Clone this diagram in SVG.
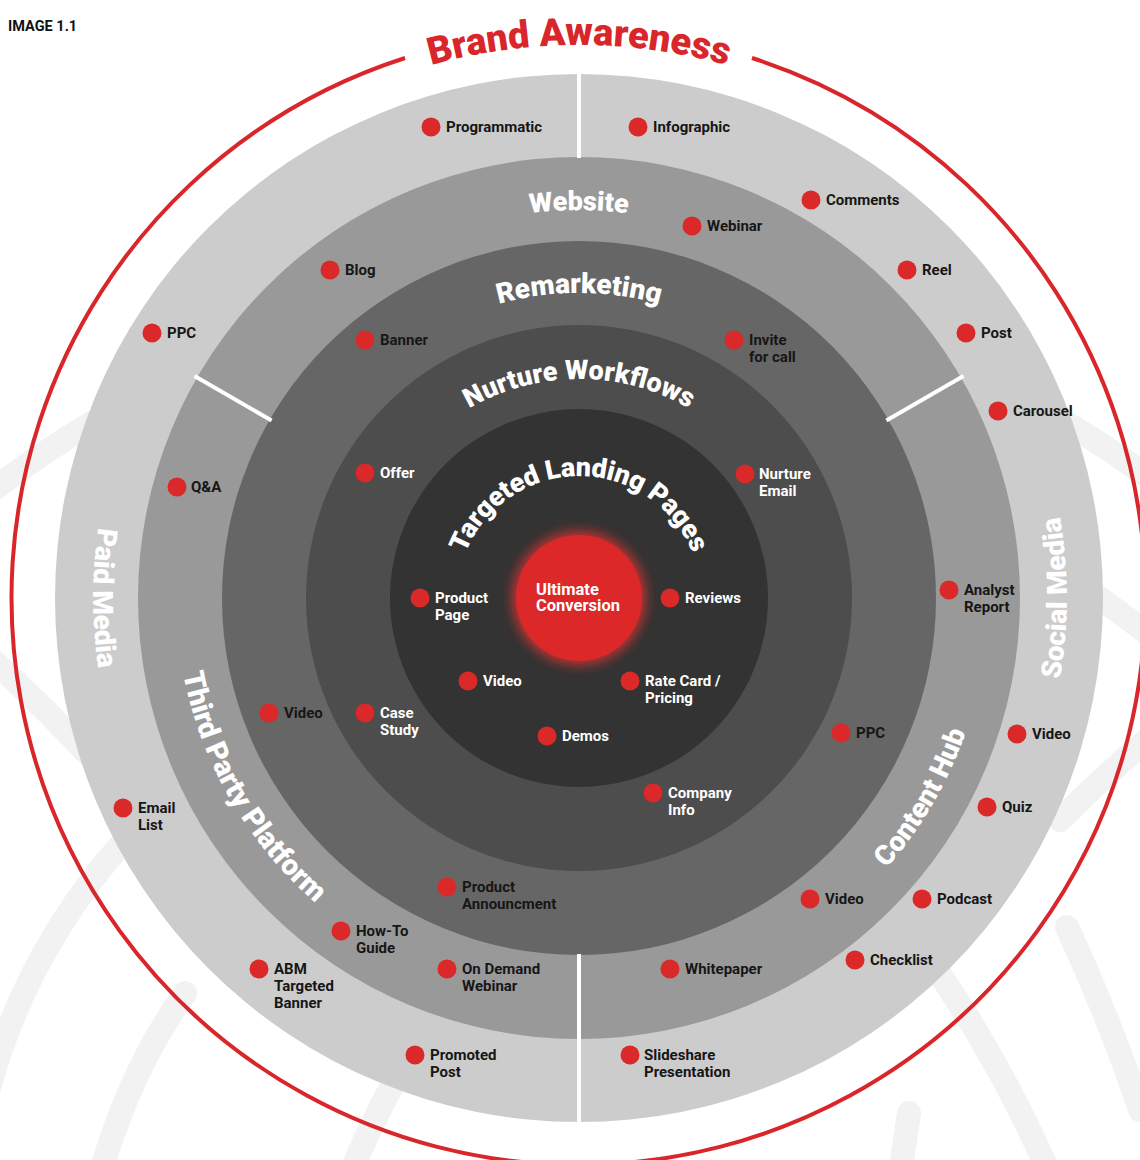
<svg xmlns="http://www.w3.org/2000/svg" width="1140" height="1160" viewBox="0 0 1140 1160">
<style>
.lbl{font-family:Roboto,"Liberation Sans",sans-serif;font-size:15px;font-weight:700;fill:#161616}
.dot{fill:#db2828}
.ttl{font-family:Roboto,"Liberation Sans",sans-serif;font-weight:900;fill:#ffffff}
.deco{fill:none;stroke:#f2f2f2;stroke-width:24;stroke-linecap:round}
.div{stroke:#ffffff;stroke-width:4}
</style>
<defs>
<path id="pBrand" d="M 26,598 A 553 553 0 0 1 1132,598"/>
<path id="pWeb" d="M 191,598 A 388 388 0 0 1 967,598"/>
<path id="pRem" d="M 274,598 A 305 305 0 0 1 884,598"/>
<path id="pNur" d="M 360,598 A 219 219 0 0 1 798,598"/>
<path id="pLand" d="M 457,598 A 122 122 0 0 1 701,598"/>
<path id="pPaid" d="M 579,112 A 486 486 0 0 0 579,1084"/>
<path id="pSoc" d="M 579,1086 A 488 488 0 0 0 579,110"/>
<path id="pTpp" d="M 375,244.7 A 408 408 0 0 0 783,951.3"/>
<path id="pCh" d="M 372.9,951.9 A 409 409 0 0 0 785.1,244.1"/>
<filter id="glow" x="-50%" y="-50%" width="200%" height="200%"><feGaussianBlur stdDeviation="6"/></filter>
</defs>
<rect width="1140" height="1160" fill="#ffffff"/>
<g id="background-decor">
<path class="deco" d="M -60,534 A 960 960 0 0 1 200,368"/>
<path class="deco" d="M 1218,534 A 960 960 0 0 0 958,368"/>
<path class="deco" d="M -30,640 Q 50,710 130,800"/>
<path class="deco" d="M 1060,570 Q 1110,605 1170,650"/>
<path class="deco" d="M 1060,820 Q 1110,770 1170,720"/>
<path class="deco" d="M -20,1125 A 612 612 0 0 1 200,770"/>
<path class="deco" d="M 185,993 Q 130,1070 100,1175"/>
<path class="deco" d="M 420,1040 Q 380,1100 350,1175"/>
<path class="deco" d="M 1067,927 Q 1110,1020 1140,1110"/>
<path class="deco" d="M 909,1113 L 900,1175"/>
<path class="deco" d="M 930,960 Q 1000,1060 1050,1175"/>
</g>
<text x="8" y="31" style="font-family:Roboto,'Liberation Sans',sans-serif;font-size:14.5px;font-weight:700;fill:#111">IMAGE 1.1</text>
<g id="ring-brand-awareness">
<path d="M 752,58 A 567 567 0 1 1 405,58" fill="none" stroke="#d9262b" stroke-width="4"/>
<text style="font-family:Roboto,'Liberation Sans',sans-serif;font-size:38px;font-weight:900;fill:#d9262b" text-anchor="middle"><textPath href="#pBrand" startOffset="50%">Brand Awareness</textPath></text>
</g>
<g id="rings">
<circle cx="579" cy="598" r="524" fill="#cccccc"/>
<circle cx="579" cy="598" r="441" fill="#999999"/>
<circle cx="579" cy="598" r="357" fill="#666666"/>
<circle cx="579" cy="598" r="273" fill="#4d4d4d"/>
<circle cx="579" cy="598" r="189" fill="#333333"/>
</g>
<g id="dividers">
<line class="div" x1="579" y1="72" x2="579" y2="158"/>
<line class="div" x1="579" y1="954" x2="579" y2="1124"/>
<line class="div" x1="194.5" y1="376" x2="271.6" y2="420.5"/>
<line class="div" x1="963.5" y1="376" x2="886.4" y2="420.5"/>
</g>
<g id="ring-titles">
<text class="ttl" font-size="27" text-anchor="middle"><textPath href="#pWeb" startOffset="50%">Website</textPath></text>
<text class="ttl" font-size="28" text-anchor="middle"><textPath href="#pRem" startOffset="50%">Remarketing</textPath></text>
<text class="ttl" font-size="27" text-anchor="middle"><textPath href="#pNur" startOffset="50%">Nurture Workflows</textPath></text>
<text class="ttl" font-size="27" text-anchor="middle" letter-spacing="-0.2"><textPath href="#pLand" startOffset="50%">Targeted Landing Pages</textPath></text>
<text class="ttl" font-size="28" font-weight="700" text-anchor="middle"><textPath href="#pPaid" startOffset="50%">Paid Media</textPath></text>
<text class="ttl" font-size="28" font-weight="700" text-anchor="middle"><textPath href="#pSoc" startOffset="50%">Social Media</textPath></text>
<text class="ttl" font-size="29" text-anchor="middle"><textPath href="#pTpp" startOffset="50%">Third Party Platform</textPath></text>
<text class="ttl" font-size="28" text-anchor="middle"><textPath href="#pCh" startOffset="50%">Content Hub</textPath></text>
</g>
<g id="center-ultimate-conversion">
<circle cx="579" cy="598" r="67" fill="#e53030" opacity="0.8" filter="url(#glow)"/>
<circle cx="579" cy="598" r="63" fill="#dc2829"/>
<text style="font-family:Roboto,'Liberation Sans',sans-serif;font-size:16.5px;font-weight:700;fill:#fff"><tspan x="536" y="595">Ultimate</tspan><tspan x="536" y="611">Conversion</tspan></text>
</g>
<g id="n-programmatic"><circle class="dot" cx="431" cy="127" r="9.5"/><text class="lbl" x="446" y="132">Programmatic</text></g>
<g id="n-infographic"><circle class="dot" cx="638" cy="127" r="9.5"/><text class="lbl" x="653" y="132">Infographic</text></g>
<g id="n-comments"><circle class="dot" cx="811" cy="200" r="9.5"/><text class="lbl" x="826" y="205">Comments</text></g>
<g id="n-reel"><circle class="dot" cx="907" cy="270" r="9.5"/><text class="lbl" x="922" y="275">Reel</text></g>
<g id="n-post"><circle class="dot" cx="966" cy="333" r="9.5"/><text class="lbl" x="981" y="338">Post</text></g>
<g id="n-carousel"><circle class="dot" cx="998" cy="411" r="9.5"/><text class="lbl" x="1013" y="416">Carousel</text></g>
<g id="n-ppc-paid"><circle class="dot" cx="152" cy="333" r="9.5"/><text class="lbl" x="167" y="338">PPC</text></g>
<g id="n-qa"><circle class="dot" cx="177" cy="487" r="9.5"/><text class="lbl" x="191" y="492">Q&amp;A</text></g>
<g id="n-email-list"><circle class="dot" cx="123" cy="808" r="9.5"/><text class="lbl"><tspan x="138" y="813">Email</tspan><tspan x="138" y="830">List</tspan></text></g>
<g id="n-abm"><circle class="dot" cx="259" cy="969" r="9.5"/><text class="lbl"><tspan x="274" y="974">ABM</tspan><tspan x="274" y="991">Targeted</tspan><tspan x="274" y="1008">Banner</tspan></text></g>
<g id="n-promoted-post"><circle class="dot" cx="415" cy="1055" r="9.5"/><text class="lbl"><tspan x="430" y="1060">Promoted</tspan><tspan x="430" y="1077">Post</tspan></text></g>
<g id="n-slideshare"><circle class="dot" cx="630" cy="1055" r="9.5"/><text class="lbl"><tspan x="644" y="1060">Slideshare</tspan><tspan x="644" y="1077">Presentation</tspan></text></g>
<g id="n-checklist"><circle class="dot" cx="855" cy="960" r="9.5"/><text class="lbl" x="870" y="965">Checklist</text></g>
<g id="n-podcast"><circle class="dot" cx="922" cy="899" r="9.5"/><text class="lbl" x="937" y="904">Podcast</text></g>
<g id="n-quiz"><circle class="dot" cx="987" cy="807" r="9.5"/><text class="lbl" x="1002" y="812">Quiz</text></g>
<g id="n-video-social"><circle class="dot" cx="1017" cy="734" r="9.5"/><text class="lbl" x="1032" y="739">Video</text></g>
<g id="n-webinar"><circle class="dot" cx="692" cy="226" r="9.5"/><text class="lbl" x="707" y="231">Webinar</text></g>
<g id="n-blog"><circle class="dot" cx="330" cy="270" r="9.5"/><text class="lbl" x="345" y="275">Blog</text></g>
<g id="n-analyst-report"><circle class="dot" cx="949" cy="590" r="9.5"/><text class="lbl"><tspan x="964" y="595">Analyst</tspan><tspan x="964" y="612">Report</tspan></text></g>
<g id="n-video-tpp"><circle class="dot" cx="269" cy="713" r="9.5"/><text class="lbl" x="284" y="718">Video</text></g>
<g id="n-howto"><circle class="dot" cx="341" cy="931" r="9.5"/><text class="lbl"><tspan x="356" y="936">How-To</tspan><tspan x="356" y="953">Guide</tspan></text></g>
<g id="n-ondemand"><circle class="dot" cx="447" cy="969" r="9.5"/><text class="lbl"><tspan x="462" y="974">On Demand</tspan><tspan x="462" y="991">Webinar</tspan></text></g>
<g id="n-whitepaper"><circle class="dot" cx="670" cy="969" r="9.5"/><text class="lbl" x="685" y="974">Whitepaper</text></g>
<g id="n-video-ch"><circle class="dot" cx="810" cy="899" r="9.5"/><text class="lbl" x="825" y="904">Video</text></g>
<g id="n-banner"><circle class="dot" cx="365" cy="340" r="9.5"/><text class="lbl" x="380" y="345">Banner</text></g>
<g id="n-invite"><circle class="dot" cx="734" cy="340" r="9.5"/><text class="lbl"><tspan x="749" y="345">Invite</tspan><tspan x="749" y="362">for call</tspan></text></g>
<g id="n-ppc-rem"><circle class="dot" cx="841" cy="733" r="9.5"/><text class="lbl" x="856" y="738">PPC</text></g>
<g id="n-product-ann"><circle class="dot" cx="447" cy="887" r="9.5"/><text class="lbl"><tspan x="462" y="892">Product</tspan><tspan x="462" y="909">Announcment</tspan></text></g>
<g id="n-offer"><circle class="dot" cx="365" cy="473" r="9.5"/><text class="lbl" x="380" y="478" style="fill:#fff">Offer</text></g>
<g id="n-nurture-email"><circle class="dot" cx="745" cy="474" r="9.5"/><text class="lbl" style="fill:#fff"><tspan x="759" y="479">Nurture</tspan><tspan x="759" y="496">Email</tspan></text></g>
<g id="n-case-study"><circle class="dot" cx="365" cy="713" r="9.5"/><text class="lbl" style="fill:#fff"><tspan x="380" y="718">Case</tspan><tspan x="380" y="735">Study</tspan></text></g>
<g id="n-company-info"><circle class="dot" cx="653" cy="793" r="9.5"/><text class="lbl" style="fill:#fff"><tspan x="668" y="798">Company</tspan><tspan x="668" y="815">Info</tspan></text></g>
<g id="n-product-page"><circle class="dot" cx="420" cy="598" r="9.5"/><text class="lbl" style="fill:#fff"><tspan x="435" y="603">Product</tspan><tspan x="435" y="620">Page</tspan></text></g>
<g id="n-reviews"><circle class="dot" cx="670" cy="598" r="9.5"/><text class="lbl" x="685" y="603" style="fill:#fff">Reviews</text></g>
<g id="n-video-lp"><circle class="dot" cx="468" cy="681" r="9.5"/><text class="lbl" x="483" y="686" style="fill:#fff">Video</text></g>
<g id="n-ratecard"><circle class="dot" cx="630" cy="681" r="9.5"/><text class="lbl" style="fill:#fff"><tspan x="645" y="686">Rate Card /</tspan><tspan x="645" y="703">Pricing</tspan></text></g>
<g id="n-demos"><circle class="dot" cx="547" cy="736" r="9.5"/><text class="lbl" x="562" y="741" style="fill:#fff">Demos</text></g>
</svg>
